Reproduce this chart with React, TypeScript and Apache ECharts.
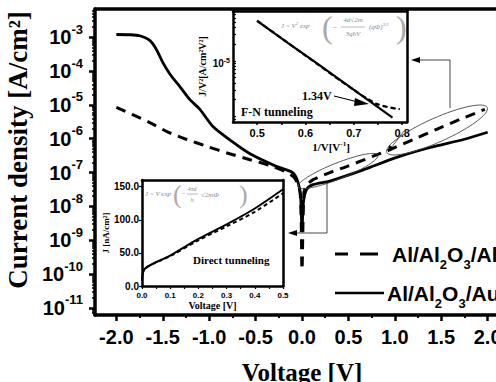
import React, { useEffect, useRef } from 'react';
import * as echarts from 'echarts';

// ---------- Main plot: J–V ----------
const voltageTickLabels = [-2.0, -1.5, -1.0, -0.5, 0.0, 0.5, 1.0, 1.5, 2.0];
const voltageMinorTicks = [-1.75, -1.25, -0.75, -0.25, 0.25, 0.75, 1.25, 1.75];
const decadeTicks = [1e-11, 1e-10, 1e-9, 1e-8, 1e-7, 1e-6, 1e-5, 1e-4, 1e-3];

// Al/Al2O3/Au (solid)
const auVoltage = [-2.0, -1.85, -1.75, -1.64, -1.57, -1.5, -1.42, -1.31, -1.21, -1.1, -0.96, -0.74, -0.56, -0.27, -0.1, -0.045, -0.015, 0.0, 0.015, 0.05, 0.12, 0.3, 0.66, 1.02, 1.38, 1.74, 2.0];
const auCurrent = [1.2e-3, 1.18e-3, 1.1e-3, 8e-4, 4.4e-4, 1.8e-4, 7.9e-5, 3.3e-5, 1.45e-5, 7.4e-6, 2.3e-6, 7.8e-7, 3.6e-7, 1.5e-7, 1.0e-7, 5.4e-8, 2.0e-8, 2.0e-9, 1.3e-8, 3.2e-8, 4.4e-8, 5.6e-8, 1.2e-7, 2.8e-7, 5.5e-7, 9.5e-7, 1.55e-6];

// Al/Al2O3/Al (dashed)
const alVoltage = [-2.0, -1.64, -1.45, -1.24, -1.02, -0.78, -0.56, -0.34, -0.18, -0.08, -0.02, 0.0, 0.02, 0.05, 0.12, 0.3, 0.48, 0.81, 0.95, 1.2, 1.45, 1.7, 1.97];
const alCurrent = [8.5e-6, 3.0e-6, 1.6e-6, 9.5e-7, 5.9e-7, 3.6e-7, 2.4e-7, 1.6e-7, 1.07e-7, 7e-8, 2.5e-8, 1.35e-10, 2.5e-8, 4.2e-8, 6.2e-8, 1.0e-7, 1.5e-7, 3.4e-7, 4.8e-7, 9.5e-7, 1.9e-6, 3.7e-6, 7.4e-6];

// ---------- Inset 1: F-N plot ----------
const fnTickLabels = [0.5, 0.6, 0.7, 0.8];
const fnTicks = [0.5, 0.55, 0.6, 0.65, 0.7, 0.75, 0.8];
const fnYLabels = [1e-5];
const fnYTicks = [8e-7, 9e-7, 1e-6, 2e-6, 3e-6, 4e-6, 5e-6, 6e-6, 7e-6, 8e-6, 9e-6, 1e-5, 2e-5, 3e-5, 4e-5, 5e-5, 6e-5, 7e-5];
const fnAuInvV = [0.5, 0.564, 0.618, 0.688, 0.78];
const fnAuJ = [5.25e-5, 2.1e-5, 9.8e-6, 3.6e-6, 9.5e-7];
const fnAlInvV = [0.5, 0.6, 0.7, 0.75, 0.795];
const fnAlJ = [5.3e-5, 1.25e-5, 3.0e-6, 1.65e-6, 1.35e-6];

// ---------- Inset 2: direct tunneling ----------
const dtTickLabels = [0, 0.1, 0.2, 0.3, 0.4, 0.5];
const dtTicks = [0, 0.05, 0.1, 0.15, 0.2, 0.25, 0.3, 0.35, 0.4, 0.45, 0.5];
const dtYLabels = [0, 50, 100, 150];
const dtAuV = [0, 0.01, 0.1, 0.2, 0.3, 0.4, 0.5];
const dtAuJ = [8, 26, 46, 71, 93, 117, 146];
const dtAlV = [0, 0.01, 0.1, 0.2, 0.3, 0.4, 0.5];
const dtAlJ = [8, 26, 45, 69, 90, 112, 140];

const SANS = '"Liberation Sans", Arial, sans-serif';
const SERIF = '"Liberation Serif", "Times New Roman", serif';
const EQ = '#8a8a8a';
const BLACK = '#000';

const pairs = (xs: number[], ys: number[]) => xs.map((x, i) => [x, ys[i]]);

const minorDecades: number[] = [];
for (let e = -12; e <= -3; e++) {
  for (let k = 2; k <= 9; k++) minorDecades.push(k * Math.pow(10, e));
}

const expLabel = (v: number) => `{b|10}{s|${Math.round(Math.log10(v))}}`;

// frame-only axes (top / right side of a box)
const frameX = (gridIndex: number, width: number) => ({
  gridIndex, type: 'value', min: 0, max: 1, position: 'top',
  axisLine: { show: true, onZero: false, lineStyle: { color: BLACK, width } },
  axisTick: { show: false }, axisLabel: { show: false }, splitLine: { show: false },
});
const frameY = (gridIndex: number, width: number) => ({
  gridIndex, type: 'value', min: 0, max: 1, position: 'right',
  axisLine: { show: true, onZero: false, lineStyle: { color: BLACK, width } },
  axisTick: { show: false }, axisLabel: { show: false }, splitLine: { show: false },
});

function buildOption(): any {
  return {
    animation: false,
    backgroundColor: '#fff',
    textStyle: { fontFamily: SANS },
    grid: [
      { left: 95, top: 9, right: 31, bottom: 67, show: false, containLabel: false, outerBoundsMode: 'none' },
      { left: 233, top: 11, width: 174, height: 111, show: false, containLabel: false, outerBoundsMode: 'none' },
      { left: 142, top: 180, width: 141, height: 106, show: false, containLabel: false, outerBoundsMode: 'none' },
    ],
    xAxis: [
      {
        gridIndex: 0, type: 'value', min: -2.23, max: 2.23, position: 'bottom',
        axisLine: { show: true, onZero: false, lineStyle: { color: BLACK, width: 3.5 } },
        axisTick: { show: true, customValues: voltageTickLabels, length: 6, lineStyle: { color: BLACK, width: 2.5 } },
        axisLabel: { customValues: voltageTickLabels, formatter: (v: number) => v.toFixed(1), fontSize: 20, fontWeight: 'bold', fontFamily: SANS, color: BLACK, margin: 12 },
        splitLine: { show: false },
        name: 'Voltage [V]', nameLocation: 'middle', nameGap: 45,
        nameTextStyle: { fontFamily: SERIF, fontWeight: 'bold', fontSize: 25, color: BLACK },
      },
      {
        gridIndex: 0, type: 'value', min: -2.23, max: 2.23, position: 'bottom',
        axisLine: { show: false, onZero: false },
        axisTick: { show: true, customValues: voltageMinorTicks, length: 3, lineStyle: { color: BLACK, width: 2 } },
        axisLabel: { show: false }, splitLine: { show: false },
      },
      {
        gridIndex: 1, type: 'value', min: 0.45, max: 0.81, position: 'bottom',
        axisLine: { show: true, onZero: false, lineStyle: { color: BLACK, width: 2.5 } },
        axisTick: { show: true, customValues: fnTicks, length: 3, lineStyle: { color: BLACK, width: 1.5 } },
        axisLabel: { customValues: fnTickLabels, formatter: (v: number) => v.toFixed(1), fontSize: 11, fontWeight: 'bold', fontFamily: SANS, color: BLACK, margin: 5 },
        splitLine: { show: false },
        name: '{n|1/V[V}{s|-1}{n|]}', nameLocation: 'middle', nameGap: 18,
        nameTextStyle: {
          padding: [0, 0, 0, 22],
          rich: {
            n: { fontFamily: SERIF, fontWeight: 'bold', fontSize: 11, color: BLACK },
            s: { fontFamily: SERIF, fontWeight: 'bold', fontSize: 7, color: BLACK, padding: [0, 0, 7, 0] },
          },
        },
      },
      {
        gridIndex: 2, type: 'value', min: 0, max: 0.5, position: 'bottom',
        axisLine: { show: true, onZero: false, lineStyle: { color: BLACK, width: 2.5 } },
        axisTick: { show: true, customValues: dtTicks, length: 3, lineStyle: { color: BLACK, width: 1.2 } },
        axisLabel: { customValues: dtTickLabels, formatter: (v: number) => v.toFixed(1), fontSize: 8, fontWeight: 'bold', fontFamily: SANS, color: BLACK, margin: 5 },
        splitLine: { show: false },
        name: 'Voltage [V]', nameLocation: 'middle', nameGap: 14,
        nameTextStyle: { fontFamily: SERIF, fontWeight: 'bold', fontSize: 10, color: BLACK },
      },
      frameX(0, 3.5),
      frameX(1, 2.5),
      frameX(2, 2.5),
    ],
    yAxis: [
      {
        gridIndex: 0, type: 'log', logBase: 10, min: 6.2e-12, max: 6.8e-3, position: 'left',
        axisLine: { show: true, onZero: false, lineStyle: { color: BLACK, width: 3.5 } },
        axisTick: { show: true, customValues: decadeTicks, length: 6, lineStyle: { color: BLACK, width: 2.5 } },
        axisLabel: {
          customValues: decadeTicks, formatter: expLabel, margin: 12,
          rich: {
            b: { fontSize: 20, fontWeight: 'bold', fontFamily: SANS, color: BLACK },
            s: { fontSize: 13, fontWeight: 'bold', fontFamily: SANS, color: BLACK, padding: [0, 0, 16, 0] },
          },
        },
        splitLine: { show: false },
        name: 'Current density [A/cm²]', nameLocation: 'middle', nameGap: 55,
        nameTextStyle: { fontFamily: SERIF, fontWeight: 'bold', fontSize: 27, color: BLACK, padding: [0, 0, 0, 24] },
      },
      {
        gridIndex: 0, type: 'log', logBase: 10, min: 6.2e-12, max: 6.8e-3, position: 'left',
        axisLine: { show: false, onZero: false },
        axisTick: { show: true, customValues: minorDecades, length: 3, lineStyle: { color: BLACK, width: 1.5 } },
        axisLabel: { show: false }, splitLine: { show: false },
      },
      {
        gridIndex: 1, type: 'log', logBase: 10, min: 7.94e-7, max: 7.94e-5, position: 'left',
        axisLine: { show: true, onZero: false, lineStyle: { color: BLACK, width: 2.5 } },
        axisTick: { show: true, inside: true, customValues: fnYTicks, length: 3, lineStyle: { color: BLACK, width: 1.2 } },
        axisLabel: {
          customValues: fnYLabels, formatter: expLabel, margin: 3, padding: [6, 0, 0, 0],
          rich: {
            b: { fontSize: 10, fontWeight: 'bold', fontFamily: SANS, color: BLACK },
            s: { fontSize: 7, fontWeight: 'bold', fontFamily: SANS, color: BLACK, padding: [0, 0, 6, 0] },
          },
        },
        splitLine: { show: false },
        name: 'J/V²[A/cm²V²]', nameLocation: 'middle', nameGap: 26,
        nameTextStyle: { fontFamily: SERIF, fontWeight: 'bold', fontSize: 10, color: BLACK },
      },
      {
        gridIndex: 2, type: 'value', min: 0, max: 160, position: 'left',
        axisLine: { show: true, onZero: false, lineStyle: { color: BLACK, width: 2.5 } },
        axisTick: { show: true, customValues: dtYLabels, length: 3, lineStyle: { color: BLACK, width: 1.2 } },
        axisLabel: { customValues: dtYLabels, formatter: (v: number) => v.toFixed(1), fontSize: 10, fontWeight: 'bold', fontFamily: SANS, color: BLACK, margin: 3 },
        splitLine: { show: false },
        name: 'J [nA/cm²]', nameLocation: 'middle', nameGap: 32,
        nameTextStyle: { fontFamily: SERIF, fontWeight: 'bold', fontSize: 9, color: BLACK },
      },
      frameY(0, 3.5),
      frameY(1, 2.5),
      frameY(2, 2.5),
    ],
    series: [
      {
        name: 'Al/Al2O3/Al', type: 'line', xAxisIndex: 0, yAxisIndex: 0, data: pairs(alVoltage, alCurrent),
        showSymbol: false, symbol: 'none', smooth: 0.25, z: 3,
        lineStyle: { color: BLACK, width: 3, type: [10, 7] },
      },
      {
        name: 'Al/Al2O3/Au', type: 'line', xAxisIndex: 0, yAxisIndex: 0, data: pairs(auVoltage, auCurrent),
        showSymbol: false, symbol: 'none', smooth: 0.25, z: 3,
        lineStyle: { color: BLACK, width: 2.8 },
      },
      {
        name: 'FN Al', type: 'line', xAxisIndex: 2, yAxisIndex: 2, data: pairs(fnAlInvV, fnAlJ),
        showSymbol: false, symbol: 'none', smooth: 0.3, z: 6,
        lineStyle: { color: BLACK, width: 2.2, type: [5, 3] },
      },
      {
        name: 'FN Au', type: 'line', xAxisIndex: 2, yAxisIndex: 2, data: pairs(fnAuInvV, fnAuJ),
        showSymbol: false, symbol: 'none', z: 6,
        lineStyle: { color: BLACK, width: 2.2 },
      },
      {
        name: 'DT Al', type: 'line', xAxisIndex: 3, yAxisIndex: 3, data: pairs(dtAlV, dtAlJ),
        showSymbol: false, symbol: 'none', smooth: 0.3, z: 6,
        lineStyle: { color: BLACK, width: 2, type: [4, 3] },
      },
      {
        name: 'DT Au', type: 'line', xAxisIndex: 3, yAxisIndex: 3, data: pairs(dtAuV, dtAuJ),
        showSymbol: false, symbol: 'none', smooth: 0.3, z: 6,
        lineStyle: { color: BLACK, width: 2 },
      },
    ],
    graphic: [
      // annotation ellipses
      { type: 'ellipse', x: 338, y: 171, rotation: 0.38, shape: { cx: 0, cy: 0, rx: 43, ry: 8 }, style: { fill: 'none', stroke: '#444', lineWidth: 0.8 }, z: 100 },
      { type: 'ellipse', x: 437, y: 130, rotation: 0.42, shape: { cx: 0, cy: 0, rx: 55, ry: 12 }, style: { fill: 'none', stroke: '#444', lineWidth: 0.8 }, z: 100 },
      // arrow to F-N inset
      { type: 'polyline', shape: { points: [[450, 108], [450, 60], [418, 60]] }, style: { fill: 'none', stroke: '#333', lineWidth: 0.9 }, z: 100 },
      { type: 'polygon', shape: { points: [[411, 60], [420, 57], [420, 63]] }, style: { fill: '#000' }, z: 100 },
      // thin arrow from inset corner
      { type: 'line', shape: { x1: 404, y1: 131, x2: 391, y2: 148 }, style: { stroke: '#333', lineWidth: 0.8 }, z: 100 },
      { type: 'polygon', shape: { points: [[388, 152], [389, 145], [394, 148]] }, style: { fill: '#000' }, z: 100 },
      // arrow to DT inset
      { type: 'polyline', shape: { points: [[327, 182], [327, 233], [295, 233]] }, style: { fill: 'none', stroke: '#333', lineWidth: 0.9 }, z: 100 },
      { type: 'polygon', shape: { points: [[288, 233], [297, 230], [297, 236]] }, style: { fill: '#000' }, z: 100 },
      // F-N inset labels
      { type: 'text', x: 302, y: 96, style: { text: '1.34V', font: `bold 12px ${SERIF}`, fill: '#000', verticalAlign: 'middle' }, z: 100 },
      { type: 'line', shape: { x1: 334, y1: 96, x2: 358, y2: 102 }, style: { stroke: '#000', lineWidth: 1.2 }, z: 100 },
      { type: 'polygon', shape: { points: [[369, 104], [355, 98], [354, 106]] }, style: { fill: '#000' }, z: 100 },
      { type: 'text', x: 241, y: 112, style: { text: 'F-N tunneling', font: `bold 12px ${SERIF}`, fill: '#000', verticalAlign: 'middle' }, z: 100 },
      // F-N equation
      {
        type: 'text', x: 281, y: 26, z: 100,
        style: {
          text: '{a|J ~ V}{p|2}{a| exp}', verticalAlign: 'middle',
          rich: {
            a: { fontSize: 7, fontStyle: 'italic', fontFamily: SERIF, fill: EQ },
            p: { fontSize: 5, fontStyle: 'italic', fontFamily: SERIF, fill: EQ, padding: [0, 0, 6, 0] },
          },
        },
      },
      { type: 'text', x: 322, y: 27, style: { text: '(', font: `32px ${SERIF}`, fill: '#aaa', verticalAlign: 'middle' }, z: 100 },
      { type: 'text', x: 332, y: 27, style: { text: '−', font: `italic 8px ${SERIF}`, fill: EQ, verticalAlign: 'middle' }, z: 100 },
      { type: 'text', x: 353, y: 20, style: { text: '4d√2m', font: `italic 7px ${SERIF}`, fill: EQ, align: 'center', verticalAlign: 'middle' }, z: 100 },
      { type: 'line', shape: { x1: 341, y1: 27, x2: 365, y2: 27 }, style: { stroke: EQ, lineWidth: 0.6 }, z: 100 },
      { type: 'text', x: 353, y: 34, style: { text: '3qħV', font: `italic 7px ${SERIF}`, fill: EQ, align: 'center', verticalAlign: 'middle' }, z: 100 },
      {
        type: 'text', x: 369, y: 27, z: 100,
        style: {
          text: '{a|(qΦ)}{p|3/2}', verticalAlign: 'middle',
          rich: {
            a: { fontSize: 7, fontStyle: 'italic', fontFamily: SERIF, fill: EQ },
            p: { fontSize: 5, fontStyle: 'italic', fontFamily: SERIF, fill: EQ, padding: [0, 0, 6, 0] },
          },
        },
      },
      { type: 'text', x: 396, y: 27, style: { text: ')', font: `32px ${SERIF}`, fill: '#aaa', verticalAlign: 'middle' }, z: 100 },
      // DT inset labels
      { type: 'text', x: 193, y: 260, style: { text: 'Direct tunneling', font: `bold 11px ${SERIF}`, fill: '#000', verticalAlign: 'middle' }, z: 100 },
      { type: 'text', x: 145, y: 194, style: { text: 'J ~ V exp', font: `italic 7px ${SERIF}`, fill: EQ, verticalAlign: 'middle' }, z: 100 },
      { type: 'text', x: 173, y: 194, style: { text: '(', font: `26px ${SERIF}`, fill: '#aaa', verticalAlign: 'middle' }, z: 100 },
      { type: 'text', x: 181, y: 194, style: { text: '−', font: `italic 7px ${SERIF}`, fill: EQ, verticalAlign: 'middle' }, z: 100 },
      { type: 'text', x: 192, y: 189, style: { text: '4πd', font: `italic 6px ${SERIF}`, fill: EQ, align: 'center', verticalAlign: 'middle' }, z: 100 },
      { type: 'line', shape: { x1: 187, y1: 194, x2: 198, y2: 194 }, style: { stroke: EQ, lineWidth: 0.6 }, z: 100 },
      { type: 'text', x: 192, y: 200, style: { text: 'h', font: `italic 6px ${SERIF}`, fill: EQ, align: 'center', verticalAlign: 'middle' }, z: 100 },
      { type: 'text', x: 201, y: 195, style: { text: '√2mΦ', font: `italic 7px ${SERIF}`, fill: EQ, verticalAlign: 'middle' }, z: 100 },
      { type: 'text', x: 239, y: 194, style: { text: ')', font: `26px ${SERIF}`, fill: '#aaa', verticalAlign: 'middle' }, z: 100 },
      // legend
      { type: 'line', shape: { x1: 335, y1: 254, x2: 348, y2: 254 }, style: { stroke: '#000', lineWidth: 3 }, z: 100 },
      { type: 'line', shape: { x1: 360, y1: 254, x2: 378, y2: 254 }, style: { stroke: '#000', lineWidth: 3 }, z: 100 },
      {
        type: 'text', x: 392, y: 254, z: 100,
        style: {
          text: '{n|Al/Al}{s|2}{n|O}{s|3}{n|/Al}', verticalAlign: 'middle',
          rich: {
            n: { fontSize: 21, fontWeight: 'bold', fontFamily: SANS, fill: '#000' },
            s: { fontSize: 13, fontWeight: 'bold', fontFamily: SANS, fill: '#000', padding: [20, 0, 0, 0] },
          },
        },
      },
      { type: 'line', shape: { x1: 335, y1: 293, x2: 384, y2: 293 }, style: { stroke: '#000', lineWidth: 2.5 }, z: 100 },
      {
        type: 'text', x: 387, y: 293, z: 100,
        style: {
          text: '{n|Al/Al}{s|2}{n|O}{s|3}{n|/Au}', verticalAlign: 'middle',
          rich: {
            n: { fontSize: 21, fontWeight: 'bold', fontFamily: SANS, fill: '#000' },
            s: { fontSize: 13, fontWeight: 'bold', fontFamily: SANS, fill: '#000', padding: [20, 0, 0, 0] },
          },
        },
      },
    ],
  };
}

export default function App() {
  const ref = useRef<HTMLDivElement>(null);
  useEffect(() => {
    if (!ref.current) return;
    const chart = echarts.init(ref.current, undefined, { renderer: 'svg' });
    chart.setOption(buildOption());
    return () => chart.dispose();
  }, []);
  return (
    <div style={{ position: 'fixed', left: 0, top: 0, width: 496, height: 382, overflow: 'hidden', background: '#fff' }}>
      <div ref={ref} style={{ width: 540, height: 382 }} />
    </div>
  );
}
